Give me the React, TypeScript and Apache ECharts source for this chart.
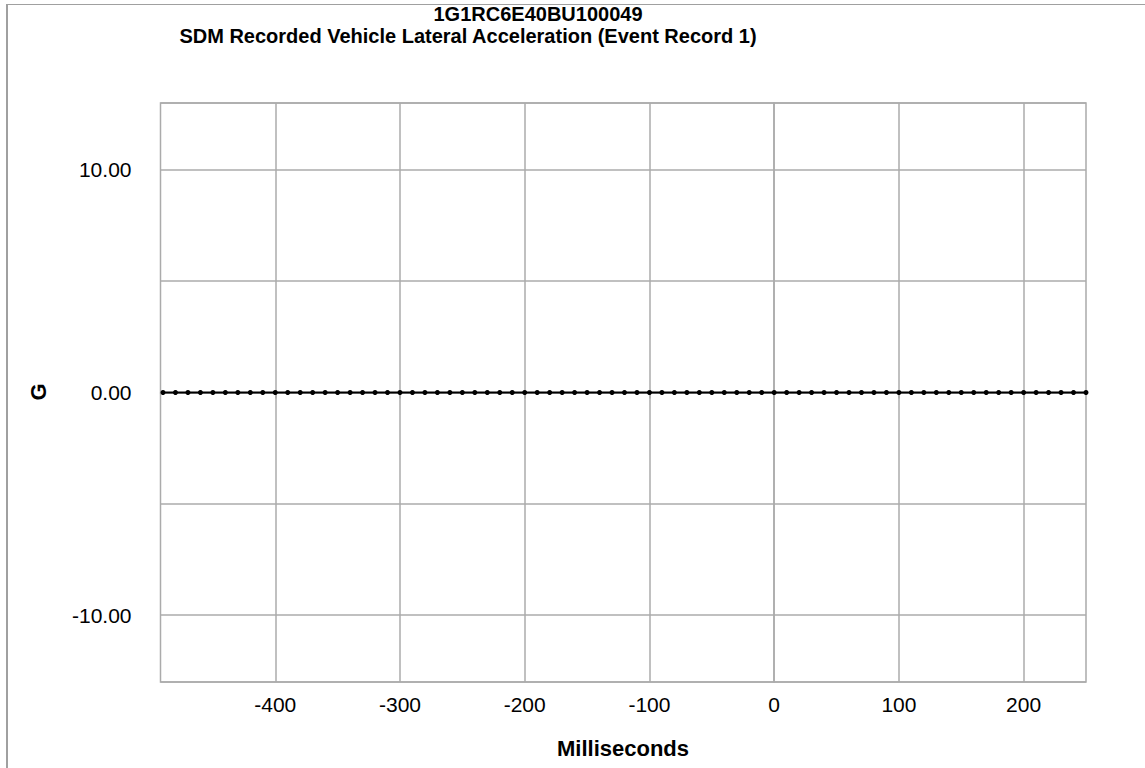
import React, { useEffect, useRef } from "react";
import * as echarts from "echarts";

const titleLine1 = "1G1RC6E40BU100049";
const titleLine2 = "SDM Recorded Vehicle Lateral Acceleration (Event Record 1)";
const xAxisTitle = "Milliseconds";
const yAxisTitle = "G";

const timesMs = [
  -490, -480, -470, -460, -450, -440, -430, -420, -410, -400,
  -390, -380, -370, -360, -350, -340, -330, -320, -310, -300,
  -290, -280, -270, -260, -250, -240, -230, -220, -210, -200,
  -190, -180, -170, -160, -150, -140, -130, -120, -110, -100,
  -90, -80, -70, -60, -50, -40, -30, -20, -10, 0,
  10, 20, 30, 40, 50, 60, 70, 80, 90, 100,
  110, 120, 130, 140, 150, 160, 170, 180, 190, 200,
  210, 220, 230, 240, 250,
];

const lateralG = [
  0, 0, 0, 0, 0, 0, 0, 0, 0, 0,
  0, 0, 0, 0, 0, 0, 0, 0, 0, 0,
  0, 0, 0, 0, 0, 0, 0, 0, 0, 0,
  0, 0, 0, 0, 0, 0, 0, 0, 0, 0,
  0, 0, 0, 0, 0, 0, 0, 0, 0, 0,
  0, 0, 0, 0, 0, 0, 0, 0, 0, 0,
  0, 0, 0, 0, 0, 0, 0, 0, 0, 0,
  0, 0, 0, 0, 0,
];

const xTickValues = [-400, -300, -200, -100, 0, 100, 200];
const yLabelValues = [-10, 0, 10];

const FONT = "'Liberation Sans', Arial, sans-serif";
const GRID_COLOR = "#ababab";

export default function App() {
  const ref = useRef<HTMLDivElement>(null);

  useEffect(() => {
    if (!ref.current) return;
    const chart = echarts.init(ref.current, null, { renderer: "svg" });
    const data = timesMs.map((t, i) => [t, lateralG[i]]);
    chart.setOption({
      animation: false,
      backgroundColor: "#ffffff",
      textStyle: { fontFamily: FONT },
      grid: {
        left: 160.5,
        right: 59,
        top: 103,
        bottom: 86,
        show: true,
        borderColor: GRID_COLOR,
        borderWidth: 1.5,
        outerBoundsMode: "none",
      },
      xAxis: {
        type: "value",
        min: -492,
        max: 250,
        splitNumber: 7,
        axisLine: { show: true, lineStyle: { color: GRID_COLOR, width: 1.5 } },
        axisTick: {
          show: true,
          length: 6,
          customValues: xTickValues,
          lineStyle: { color: GRID_COLOR, width: 1.5 },
        },
        axisLabel: {
          customValues: xTickValues,
          color: "#000",
          fontSize: 21,
          fontFamily: FONT,
          margin: 12,
          formatter: (v: number) => String(v),
        },
        splitLine: { show: true, lineStyle: { color: GRID_COLOR, width: 1.5 } },
      },
      yAxis: {
        type: "value",
        min: -13,
        max: 13,
        splitNumber: 5,
        axisLine: { show: true, lineStyle: { color: GRID_COLOR, width: 1.5 } },
        axisTick: { show: false },
        axisLabel: {
          customValues: yLabelValues,
          color: "#000",
          fontSize: 21,
          fontFamily: FONT,
          margin: 29,
          formatter: (v: number) => v.toFixed(2),
        },
        splitLine: { show: true, lineStyle: { color: GRID_COLOR, width: 1.5 } },
      },
      graphic: [
        {
          type: "line",
          shape: { x1: 7, y1: 4, x2: 7, y2: 768 },
          style: { stroke: "#a0a0a0", lineWidth: 2 },
        },
        {
          type: "line",
          shape: { x1: 6, y1: 4.5, x2: 1145, y2: 4.5 },
          style: { stroke: "#a0a0a0", lineWidth: 1 },
        },
        {
          type: "text",
          x: 538,
          y: 14,
          style: {
            text: titleLine1,
            font: `bold 20px ${FONT}`,
            fill: "#000",
            textAlign: "center",
            textVerticalAlign: "middle",
          },
        },
        {
          type: "text",
          x: 468,
          y: 36,
          style: {
            text: titleLine2,
            font: `bold 20px ${FONT}`,
            fill: "#000",
            textAlign: "center",
            textVerticalAlign: "middle",
          },
        },
        {
          type: "text",
          x: 623,
          y: 748,
          style: {
            text: xAxisTitle,
            font: `bold 22px ${FONT}`,
            fill: "#000",
            textAlign: "center",
            textVerticalAlign: "middle",
          },
        },
        {
          type: "text",
          x: 38,
          y: 392,
          rotation: Math.PI / 2,
          style: {
            text: yAxisTitle,
            font: `bold 22px ${FONT}`,
            fill: "#000",
            textAlign: "center",
            textVerticalAlign: "middle",
          },
        },
      ],
      series: [
        {
          type: "line",
          data,
          symbol: "circle",
          symbolSize: 5,
          showSymbol: true,
          lineStyle: { color: "#000", width: 2 },
          itemStyle: { color: "#000" },
          clip: false,
        },
      ],
    });
    return () => chart.dispose();
  }, []);

  return (
    <div
      ref={ref}
      style={{ position: "absolute", left: 0, top: 0, width: 1145, height: 768 }}
    />
  );
}
